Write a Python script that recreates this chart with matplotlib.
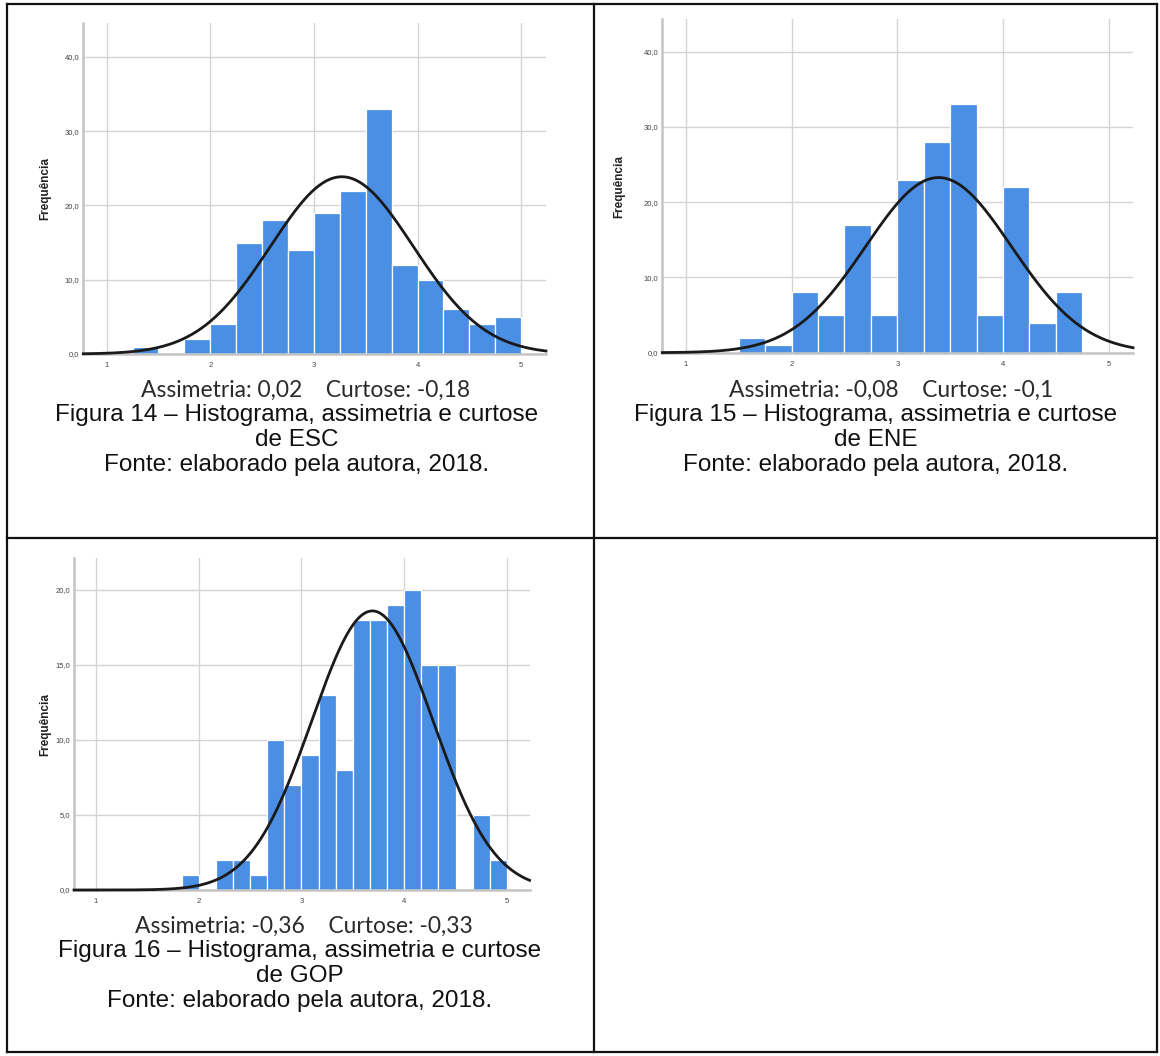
import numpy as np
import matplotlib
matplotlib.use("Agg")
import matplotlib.pyplot as plt
from matplotlib.lines import Line2D

W, H = 1160, 1056

# ---------------- data ----------------
x_ticks = [1, 2, 3, 4, 5]

esc_bin_start = 1.25
esc_bin_width = 0.25
esc_counts = [1, 0, 2, 4, 15, 18, 14, 19, 22, 33, 12, 10, 6, 4, 5]
esc_mean, esc_sd = 3.27, 0.69
esc_yticks = [0, 10, 20, 30, 40]

ene_bin_start = 1.5
ene_bin_width = 0.25
ene_counts = [2, 1, 8, 5, 17, 5, 23, 28, 33, 5, 22, 4, 8]
ene_mean, ene_sd = 3.39, 0.69
ene_yticks = [0, 10, 20, 30, 40]

gop_bin_start = 11 / 6
gop_bin_width = 1 / 6
gop_counts = [1, 0, 2, 2, 1, 10, 7, 9, 13, 8, 18, 18, 19, 20, 15, 15, 0, 5, 2]
gop_mean, gop_sd = 3.69, 0.59
gop_yticks = [0, 5, 10, 15, 20]

stats_labels = ["Assimetria: 0,02    Curtose: -0,18",
                "Assimetria: -0,08    Curtose: -0,1",
                "Assimetria: -0,36    Curtose: -0,33"]
fig_titles = ["Figura 14 \u2013 Histograma, assimetria e curtose",
              "Figura 15 \u2013 Histograma, assimetria e curtose",
              "Figura 16 \u2013 Histograma, assimetria e curtose"]
fig_vars = ["de ESC", "de ENE", "de GOP"]
source_text = "Fonte: elaborado pela autora, 2018."
ylabel_text = "Frequ\u00eancia"

# ---------------- style ----------------
BAR = "#4a8fe4"
GRID = "#d4d4d4"
AXIS = "#c4c4c4"

fig = plt.figure(figsize=(W / 100, H / 100), dpi=100)


def px_axes(l, t, r, b):
    return fig.add_axes([l / W, 1 - b / H, (r - l) / W, (b - t) / H])


def fmt(v):
    return ("%.1f" % v).replace(".", ",")


def draw_hist(box, start, bw, counts, mean, sd, yticks, xlim, ylim, ylab_x):
    ax = px_axes(*box)
    counts = np.asarray(counts, dtype=float)
    centers = start + bw * (np.arange(len(counts)) + 0.5)
    ax.set_xlim(*xlim)
    ax.set_ylim(*ylim)
    ax.set_axisbelow(True)
    ax.set_xticks(x_ticks)
    ax.set_xticklabels([str(t) for t in x_ticks])
    ax.set_yticks(yticks)
    ax.set_yticklabels([fmt(t) for t in yticks])
    ax.grid(True, color=GRID, lw=1.0)
    for s in ["top", "right"]:
        ax.spines[s].set_visible(False)
    for s in ["left", "bottom"]:
        ax.spines[s].set_color(AXIS)
        ax.spines[s].set_linewidth(1.8)
    ax.tick_params(length=0, labelsize=5.5, labelcolor="#444444")
    ax.tick_params(axis="x", pad=6)
    ax.tick_params(axis="y", pad=3)
    for lab in ax.get_xticklabels() + ax.get_yticklabels():
        lab.set_family("Liberation Sans")
    ax.bar(centers, counts, width=bw, color=BAR, edgecolor="white",
           linewidth=0.9, zorder=2)
    n = counts.sum()
    xs = np.linspace(xlim[0], xlim[1], 400)
    ys = n * bw * np.exp(-0.5 * ((xs - mean) / sd) ** 2) / (sd * np.sqrt(2 * np.pi))
    ax.plot(xs, ys, color="#1a1a1a", lw=2.0, zorder=3, clip_on=False)
    t, b = box[1], box[3]
    fig.text(ylab_x / W, 1 - (t + b) / 2 / H, ylabel_text, rotation=90,
             ha="center", va="center", fontsize=8.5, fontweight="bold",
             family="Liberation Sans", color="#222222")
    return ax


draw_hist((83.3, 23.3, 546, 354), esc_bin_start, esc_bin_width, esc_counts,
          esc_mean, esc_sd, esc_yticks, (0.775, 5.24), (0, 44.5), 45)
draw_hist((662.3, 19.3, 1133, 352.7), ene_bin_start, ene_bin_width, ene_counts,
          ene_mean, ene_sd, ene_yticks, (0.776, 5.23), (0, 44.3), 619)
draw_hist((74, 558.3, 529.6, 890), gop_bin_start, gop_bin_width, gop_counts,
          gop_mean, gop_sd, gop_yticks, (0.786, 5.22), (0, 22.1), 45)


# ---------------- captions ----------------
def ftext(x, y, s, **kw):
    fig.text(x / W, 1 - y / H, s, ha="center", va="center", **kw)


cap_specs = [
    # stats_x, stats_y, caption_x, first caption y
    (306, 390, 297, 415),
    (891, 390, 876, 415),
    (304, 926, 300, 951),
]
for i, (sx, sy, cx, cy) in enumerate(cap_specs):
    ftext(sx, sy, stats_labels[i], fontsize=16.5, family="Lato", color="#2a2a2a")
    ftext(cx, cy, fig_titles[i], fontsize=17.5, family="Liberation Sans", color="#111111")
    ftext(cx, cy + 25, fig_vars[i], fontsize=17.5, family="Liberation Sans", color="#111111")
    ftext(cx, cy + 50, source_text, fontsize=17.5, family="Liberation Sans", color="#111111")

# ---------------- table borders ----------------
def hline(y, x0, x1):
    fig.add_artist(Line2D([x0 / W, x1 / W], [1 - y / H, 1 - y / H],
                          transform=fig.transFigure, color="#111111", lw=1.6))


def vline(x, y0, y1):
    fig.add_artist(Line2D([x / W, x / W], [1 - y0 / H, 1 - y1 / H],
                          transform=fig.transFigure, color="#111111", lw=1.6))


hline(4, 7, 1157)
hline(538, 7, 1157)
hline(1052, 7, 1157)
vline(7, 4, 1052)
vline(594, 4, 1052)
vline(1157, 4, 1052)

fig.savefig("out.png", dpi=100)
